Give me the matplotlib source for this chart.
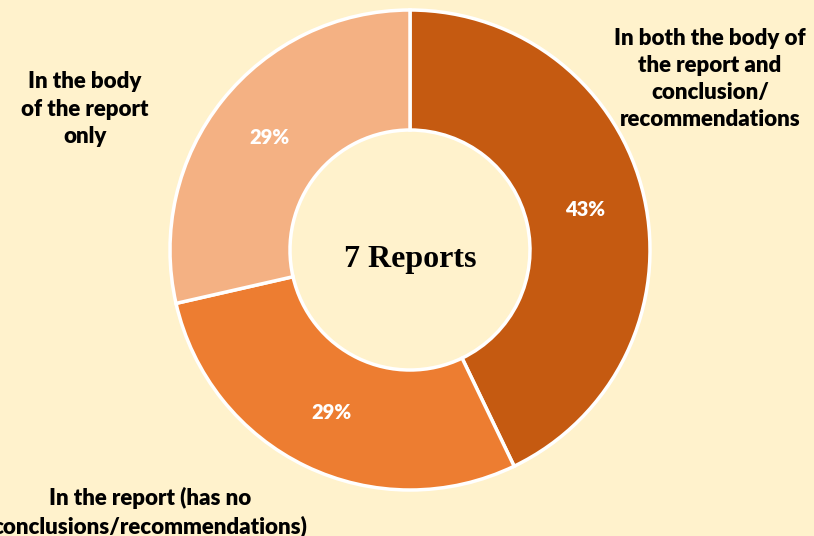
import matplotlib.pyplot as plt
import numpy as np

# share of 7 reports
categories = ["In both the body of\nthe report and\nconclusion/\nrecommendations",
              "In the report (has no\nconclusions/recommendations)",
              "In the body\nof the report\nonly"]
values = [3, 2, 2]
pct_labels = ["43%", "29%", "29%"]
colors = ["#C55A11", "#ED7D31", "#F4B183"]

bg = "#FFF2CC"
fig = plt.figure(figsize=(8.14, 5.36), dpi=100, facecolor=bg)
ax = fig.add_axes([0, 0, 1, 1])
ax.set_facecolor(bg)

H = 536
wedges, texts = ax.pie(values, colors=colors, startangle=90, counterclock=False,
                       center=(410, H - 250), radius=240,
                       wedgeprops=dict(width=120, edgecolor="white", linewidth=2.5))

# percentage labels in the ring
for w, lab in zip(wedges, pct_labels):
    ang = np.deg2rad((w.theta1 + w.theta2) / 2)
    x = 410 + 180 * np.cos(ang)
    y = H - 250 + 180 * np.sin(ang)
    ax.text(x, y, lab, ha="center", va="center", color="white",
            fontsize=14.5, fontweight="heavy", family="Lato")

# category labels
label_pos = [(710, H - 79), (150, H - 512), (85, H - 109)]
for (x, y), lab in zip(label_pos, categories):
    ax.text(x, y, lab, ha="center", va="center", fontsize=16, fontweight="heavy",
            family="Lato", linespacing=1.37, color="black")

ax.text(410, H - 259, "7 Reports", ha="center", va="center", fontsize=23,
        fontweight="bold", family="Liberation Serif")

ax.set_xlim(0, 814)
ax.set_ylim(0, H)
ax.set_aspect("equal")
ax.axis("off")
fig.savefig("out.png", dpi=100, facecolor=bg)
